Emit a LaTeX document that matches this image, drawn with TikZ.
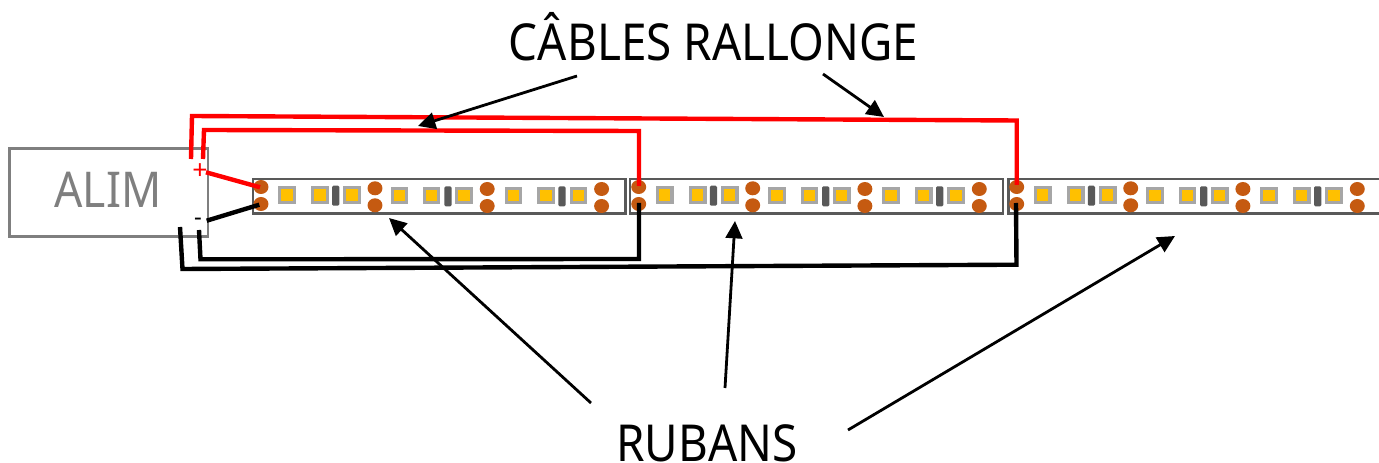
\documentclass[tikz,border=0pt]{standalone}
\usepackage{fontspec}
\setmainfont{Noto Sans}
\newfontfamily\tallsans[FakeStretch=0.9]{Noto Sans}
\usetikzlibrary{arrows.meta,shapes.geometric}
\definecolor{stripgrey}{HTML}{595959}
\definecolor{ledgrey}{HTML}{A6A6A6}
\definecolor{ledamber}{HTML}{FFC000}
\definecolor{padbrown}{HTML}{C55A11}
\definecolor{alimgrey}{HTML}{7F7F7F}
\tikzset{
  stripbox/.style={draw=stripgrey,line width=2.2pt,fill=white},
  ledchip/.style={draw=ledgrey,line width=2.4pt,fill=ledamber,minimum size=10.8pt,inner sep=0pt,rectangle},
  resist/.style={fill=stripgrey,rounded corners=1pt,minimum width=5.4pt,minimum height=15pt,inner sep=0pt,rectangle},
  padspot/.style={fill=padbrown,ellipse,minimum width=11.2pt,minimum height=10.5pt,inner sep=0pt},
  redwire/.style={draw=red,line width=3.3pt,line join=miter},
  blackwire/.style={draw=black,line width=3.3pt,line join=miter},
  pointer/.style={draw=black,line width=2.1pt,-{Triangle[length=13pt,width=12.5pt]}},
  bigtext/.style={inner sep=0pt,anchor=base,font=\tallsans\fontsize{38.2pt}{42pt}\selectfont},
}
\begin{document}
\begin{tikzpicture}[x=0.75pt,y=-0.75pt]
\clip (0,0) rectangle (1379,463);
\fill[white] (0,0) rectangle (1379,463);
% power supply
\draw[draw=alimgrey,line width=2.2pt] (9.5,148.7) rectangle (208,236.7);
\node[inner sep=0pt,anchor=base,text=alimgrey,font=\tallsans\fontsize{37pt}{40pt}\selectfont] (alim) at (108,207.3) {ALIM};
\node[inner sep=0pt,text=red,font=\fontsize{20pt}{22pt}\selectfont] (plus) at (200,171.3) {+};
\node[inner sep=0pt,font=\fontsize{18pt}{20pt}\selectfont] (minus) at (198,221.5) {-};
% strips
\draw[stripbox] (253,179) rectangle (625.6,213.5);
\draw[stripbox] (630,179) rectangle (1003,213.5);
\draw[stripbox] (1008.7,179) rectangle (1395,213.5);
\foreach \s/\o in {1/0,2/377.7,3/755.7}{
  \begin{scope}[shift={(\o,0)}]
    \node[padspot] (p\s a) at (261,187) {};
    \node[padspot] (q\s a) at (261,204) {};
    \node[padspot] (p\s b) at (375,188.3) {};
    \node[padspot] (q\s b) at (375,205.3) {};
    \node[padspot] (p\s c) at (487.2,189) {};
    \node[padspot] (q\s c) at (487.2,206) {};
    \node[padspot] (p\s d) at (601.6,189) {};
    \node[padspot] (q\s d) at (601.6,206) {};
    \foreach \n/\x/\y in {a/287/195,b/320/195,c/352/195,d/399.3/195.7,e/431.6/195.7,f/464/195.7,g/513.3/195.7,h/546/195.7,i/578.3/195.7}
      \node[ledchip] (l\s\n) at (\x,\y) {};
    \node[resist] (r\s a) at (335.7,195.7) {};
    \node[resist] (r\s b) at (448,196.3) {};
    \node[resist] (r\s c) at (562,196.3) {};
  \end{scope}
}
% wire coordinates
\coordinate (rA0) at (191,159);
\coordinate (rA1) at (192,116);
\coordinate (rA2) at (1016.7,120.5);
\coordinate (rA3) at (1016.7,185);
\coordinate (rB0) at (203,159);
\coordinate (rB1) at (204,130);
\coordinate (rB2) at (639,131);
\coordinate (rB3) at (639,186);
\coordinate (kA0) at (180,227);
\coordinate (kA1) at (182.5,269);
\coordinate (kA2) at (1016.5,264.7);
\coordinate (kA3) at (1016,203);
\coordinate (kB0) at (199,230);
\coordinate (kB1) at (200.5,259.3);
\coordinate (kB2) at (639,259);
\coordinate (kB3) at (639,203);
\coordinate (rC0) at (206,172.3);
\coordinate (rC1) at (260,187.3);
\coordinate (kC0) at (206.7,220.7);
\coordinate (kC1) at (259.3,204.7);
\draw[redwire] (rA0) -- (rA1) -- (rA2) -- (rA3);
\draw[redwire] (rB0) -- (rB1) -- (rB2) -- (rB3);
\draw[redwire] (rC0) -- (rC1);
\draw[blackwire] (kA0) -- (kA1) -- (kA2) -- (kA3);
\draw[blackwire] (kB0) -- (kB1) -- (kB2) -- (kB3);
\draw[blackwire] (kC0) -- (kC1);
% labels
\node[bigtext] (cables) at (713.5,60.5) {CÂBLES RALLONGE};
\node[bigtext] (rubans) at (707,461) {RUBANS};
\coordinate (c1) at (577,76);
\coordinate (c1e) at (418,126);
\coordinate (c2) at (823,74);
\coordinate (c2e) at (884,117);
\coordinate (u1) at (591,403);
\coordinate (u1e) at (389,218);
\coordinate (u2) at (725,388);
\coordinate (u2e) at (735,221);
\coordinate (u3) at (848,430);
\coordinate (u3e) at (1175,236);
\draw[pointer] (c1) -- (c1e);
\draw[pointer] (c2) -- (c2e);
\draw[pointer] (u1) -- (u1e);
\draw[pointer] (u2) -- (u2e);
\draw[pointer] (u3) -- (u3e);
\end{tikzpicture}
\end{document}
